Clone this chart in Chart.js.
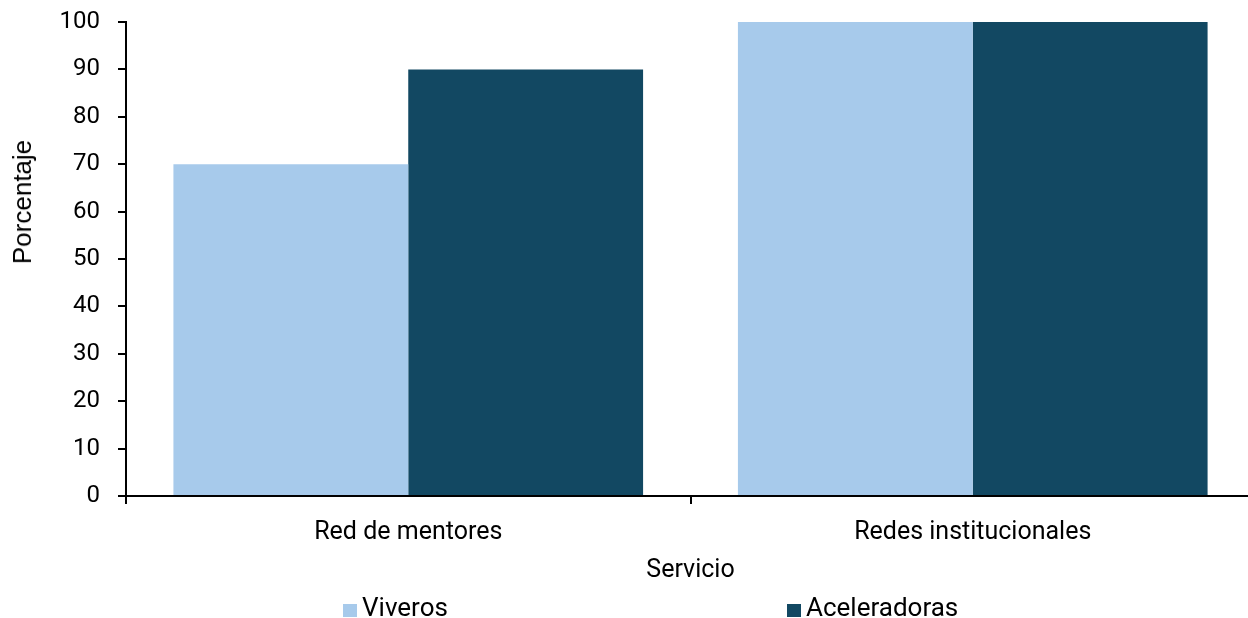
<!DOCTYPE html>
<html>
<head>
<meta charset="utf-8">
<script src="https://cdn.jsdelivr.net/npm/chart.js@4.4.0/dist/chart.umd.min.js"></script>
<style>
  html, body { margin: 0; padding: 0; background: #fff; overflow: hidden; }
  #wrap { position: relative; width: 1256px; height: 618px; }
  #legend { position: absolute; top: 593px; left: 0; width: 1248px; font-family: Roboto, sans-serif; font-size: 26px; color: #000; }
  .item { position: absolute; white-space: nowrap; line-height: 28px; }
  .box { display: inline-block; width: 14px; height: 13px; margin-right: 5px; vertical-align: -1px; }
  #ytitle { position: absolute; left: 22px; top: 202px; transform: translate(-50%, -50%) rotate(-90deg);
            font-family: 'Liberation Sans', Arial, sans-serif; font-size: 26px; color: #000; white-space: nowrap; line-height: 30px; }
</style>
</head>
<body>
<div id="wrap">
  <canvas id="chart" width="1256" height="618"></canvas>
  <div id="ytitle">Porcentaje</div>
  <div id="legend"></div>
</div>
<script>
// Data
const categories = ['Red de mentores', 'Redes institucionales'];
const viveros = [70, 100];
const aceleradoras = [90, 100];
const seriesNames = ['Viveros', 'Aceleradoras'];
const seriesColors = ['#a7caeb', '#124862'];

const ctx = document.getElementById('chart').getContext('2d');
const chart = new Chart(ctx, {
    type: 'bar',
    data: {
        labels: categories,
        datasets: [
            { label: seriesNames[0], data: viveros, backgroundColor: seriesColors[0] },
            { label: seriesNames[1], data: aceleradoras, backgroundColor: seriesColors[1] }
        ]
    },
    options: {
        responsive: false,
        animation: false,
        datasets: {
            bar: { categoryPercentage: 0.832, barPercentage: 1.0 }
        },
        layout: { padding: { top: 0, left: 0, right: 1, bottom: 32 } },
        plugins: {
            legend: { display: false },
            tooltip: { enabled: false }
        },
        scales: {
            x: {
                afterFit: (axis) => { axis.height = 90; },
                grid: { drawOnChartArea: false, tickLength: 8, color: '#000', lineWidth: 2 },
                border: { color: '#000', width: 2 },
                ticks: { color: '#000', font: { family: 'Roboto', size: 25 }, padding: 14 },
                title: { display: true, text: 'Servicio', color: '#000', font: { family: 'Roboto', size: 25 }, padding: { top: 0, bottom: 0 } }
            },
            y: {
                // fixed axis box so the plot area sits where the reference has it
                afterFit: (axis) => { axis.width = 126; axis.paddingTop = 22; axis.paddingBottom = 0; },
                min: 0,
                max: 100,
                ticks: { stepSize: 10, color: '#000', font: { family: 'Roboto', size: 24 }, padding: 18 },
                grid: { drawOnChartArea: false, tickLength: 8, color: '#000', lineWidth: 2 },
                border: { color: '#000', width: 2 },
                title: { display: false }
            }
        }
    }
});

// HTML legend spaced like the reference
const legendPos = [343, 787];
const legend = document.getElementById('legend');
seriesNames.forEach((name, i) => {
    const el = document.createElement('div');
    el.className = 'item';
    el.style.left = legendPos[i] + 'px';
    el.innerHTML = '<span class="box" style="background:' + seriesColors[i] + '"></span>' + name;
    legend.appendChild(el);
});
</script>
</body>
</html>
